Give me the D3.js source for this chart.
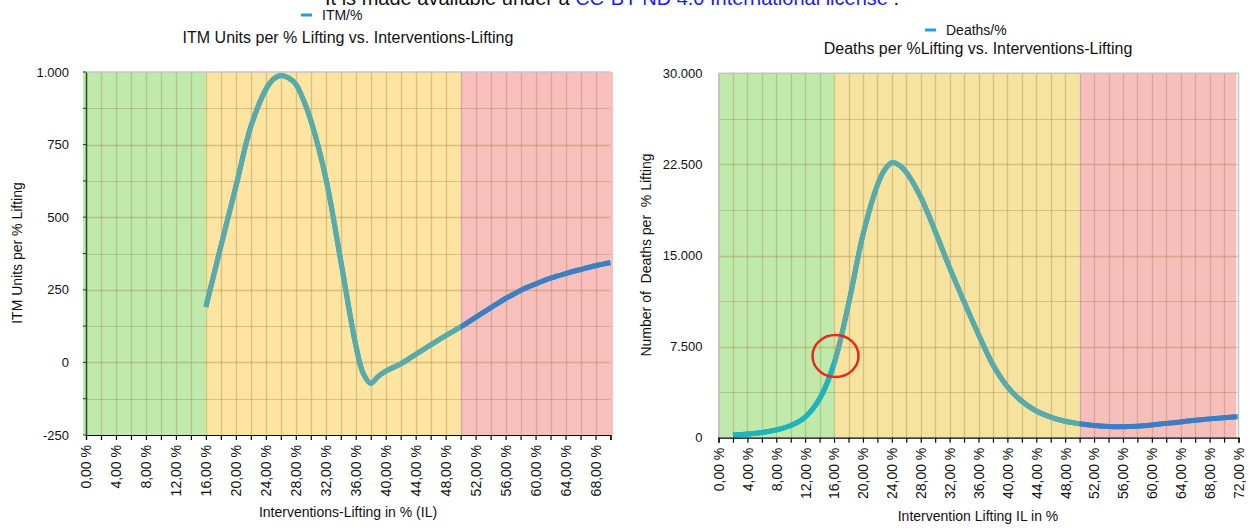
<!DOCTYPE html>
<html>
<head>
<meta charset="utf-8">
<script src="https://cdn.jsdelivr.net/npm/d3@7"></script>
<style>
  html, body { margin: 0; padding: 0; background: #fff; }
  svg { display: block; font-family: "Liberation Sans", Arial, Helvetica, sans-serif; }
</style>
</head>
<body>
<svg id="chart" width="1250" height="528"></svg>
<script>
// ---------- DATA ----------
const itmX      = [16, 18, 20, 22, 24, 25, 26, 27, 28, 29, 30, 32, 34, 36, 37, 38, 39, 40, 42, 44, 46, 48, 50, 52, 54, 56, 58, 60, 62, 64, 66, 68, 70];
const itmValues = [191, 400, 605, 812, 940, 975, 988, 980, 958, 905, 834, 635, 350, 60, -38, -72, -48, -30, -5, 28, 60, 92, 122, 155, 188, 220, 248, 270, 290, 306, 320, 333, 343];

const deathsX      = [2, 4, 6, 8, 10, 12, 14, 16, 18, 20, 22, 23, 24, 25, 26, 28, 30, 32, 34, 36, 38, 40, 42, 44, 46, 48, 50, 52, 54, 56, 58, 60, 62, 64, 66, 68, 70, 72];
const deathsValues = [220, 300, 420, 640, 1000, 1700, 3200, 6100, 11000, 16700, 20800, 22050, 22650, 22450, 21850, 19800, 17000, 14000, 11200, 8500, 6000, 4200, 3000, 2200, 1700, 1350, 1150, 1000, 930, 910, 950, 1050, 1180, 1300, 1430, 1550, 1650, 1730];

const leftXTicks   = [0, 4, 8, 12, 16, 20, 24, 28, 32, 36, 40, 44, 48, 52, 56, 60, 64, 68];
const leftYTicks   = [-250, 0, 250, 500, 750, 1000];
const rightXTicks  = [0, 4, 8, 12, 16, 20, 24, 28, 32, 36, 40, 44, 48, 52, 56, 60, 64, 68, 72];
const rightYTicks  = [0, 7500, 15000, 22500, 30000];

const leftZones  = [{from: 0, to: 16, fill: "#c0eaab", line: "#5aaba8"}, {from: 16, to: 50, fill: "#fde4a0", line: "#5aaba8"}, {from: 50, to: 70, fill: "#f8bfbd", line: "#3f7fc0"}];
const rightZones = [{from: 0, to: 16, fill: "#c0eaab", line: "#1fb5b8"}, {from: 16, to: 50, fill: "#f7e3a0", line: "#5aaba8"}, {from: 50, to: 71.7, fill: "#f7bfbc", line: "#3f7cc0"}];

const circleNote = {x: 16.2, y: 6730};

// ---------- SETUP ----------
const svg = d3.select("#chart");
const loc = d3.formatLocale({decimal: ",", thousands: ".", grouping: [3], currency: ["", ""], minus: "-"});
const yFmt = loc.format(",d");
const xFmt = d => d.toFixed(2).replace(".", ",") + " %";
const defs = svg.append("defs");

// top caption (cut off at top as in the source)
const cap = svg.append("text").attr("x", 325).attr("y", 5).attr("font-size", 20).attr("fill", "#111");
cap.append("tspan").text("It is made available under a ");
cap.append("tspan").attr("fill", "#1a1aff").text("CC-BY-ND 4.0 International license");
cap.append("tspan").text(" .");

const gridColor = "rgba(150,118,55,0.33)";

function drawChart(o) {
  const {x, y, zones, xs, vs, id} = o;
  const g = svg.append("g");
  const [x0, x1] = x.range();
  const [yb, yt] = y.range();

  // zones
  zones.forEach((z, i) => {
    g.append("rect")
      .attr("x", x(z.from) - (i === 0 ? o.zoneLeftPad : 0))
      .attr("y", yt)
      .attr("width", x(z.to) - x(z.from) + (i === 0 ? o.zoneLeftPad : 0) + (i === zones.length - 1 ? o.zoneRightPad : 0))
      .attr("height", yb - yt)
      .attr("fill", z.fill);
  });

  // grid
  const grid = g.append("g").attr("class", "grid");
  grid.selectAll(".vg").data(d3.range(o.xGridStep, x.domain()[1] - 0.01, o.xGridStep))
    .join("line").attr("x1", d => Math.round(x(d)) + 0.5).attr("x2", d => Math.round(x(d)) + 0.5).attr("y1", yt).attr("y2", yb)
    .attr("stroke", gridColor).attr("stroke-width", 1.3);
  grid.selectAll(".hg").data(d3.range(y.domain()[0] + o.yGridStep, y.domain()[1] - 1, o.yGridStep))
    .join("line").attr("x1", x0).attr("x2", x1).attr("y1", d => Math.round(y(d)) + 0.5).attr("y2", d => Math.round(y(d)) + 0.5)
    .attr("stroke", gridColor).attr("stroke-width", d => (o.yMajor && (d % o.yMajor === 0)) ? 1.6 : 1.2);

  // line clipped by zones
  const pts = xs.map((v, i) => [v, vs[i]]);
  const lineGen = d3.line().x(d => x(d[0])).y(d => y(d[1])).curve(d3.curveCatmullRom.alpha(0.5));
  g.append("path").attr("d", lineGen(pts)).attr("fill", "none").attr("stroke", "#1ea0f0")
    .attr("stroke-width", 5).attr("stroke-linejoin", "round");
  zones.forEach((z, i) => {
    const cid = id + "clip" + i;
    defs.append("clipPath").attr("id", cid).append("rect")
      .attr("x", x(z.from)).attr("y", 0).attr("width", x(z.to) - x(z.from)).attr("height", 528);
    g.append("path").attr("d", lineGen(pts)).attr("fill", "none").attr("stroke", z.line)
      .attr("stroke-width", 5).attr("stroke-linejoin", "round").attr("clip-path", `url(#${cid})`);
  });

  // frame
  g.append("line").attr("x1", x0 - (o.zoneLeftPad || 0)).attr("x2", x1).attr("y1", yt).attr("y2", yt)
    .attr("stroke", "#c4c4c4").attr("stroke-width", 1.5);
  if (o.rightBorder) {
    g.append("line").attr("x1", x1).attr("x2", x1).attr("y1", yt).attr("y2", yb)
      .attr("stroke", "#c4c4c4").attr("stroke-width", 1.5);
  }

  // y axis
  const ya = d3.axisLeft(y).tickValues(o.yTicks).tickFormat(yFmt).tickSize(0).tickPadding(o.yPad);
  const yg = g.append("g").attr("transform", `translate(${x0},0)`).call(ya);
  yg.select(".domain").attr("stroke", o.yAxisColor).attr("stroke-width", o.yAxisWidth);
  yg.selectAll("text").attr("font-size", 13).attr("fill", "#111").attr("font-family", null);
  if (o.yMinorTicks) {
    g.append("g").selectAll("line").data(d3.range(y.domain()[0], y.domain()[1] + 1, o.yGridStep)).join("line")
      .attr("x1", x0 - 3).attr("x2", x0).attr("y1", d => y(d)).attr("y2", d => y(d))
      .attr("stroke", "#1e3d1e").attr("stroke-width", 1);
  }

  // x axis
  const xa = d3.axisBottom(x).tickValues(d3.range(0, x.domain()[1] + 0.001, 2)).tickSize(5)
    .tickFormat(d => o.xTicks.includes(d) ? xFmt(d) : "");
  const xg = g.append("g").attr("transform", `translate(0,${yb})`).call(xa);
  xg.select(".domain").attr("stroke", "#000").attr("stroke-width", 1.2);
  xg.selectAll(".tick line").attr("stroke", "#000").attr("stroke-width", 1.2);
  xg.selectAll("text").attr("font-size", 14).attr("fill", "#111").attr("font-family", null)
    .attr("transform", "rotate(-90)").attr("text-anchor", "end")
    .attr("x", -10).attr("y", 0).attr("dy", "0.35em");

  // titles & legend
  g.append("line").attr("x1", o.legX).attr("x2", o.legX + 11).attr("y1", o.legY).attr("y2", o.legY)
    .attr("stroke", "#1ea0f0").attr("stroke-width", 3);
  g.append("text").attr("x", o.legX + 21).attr("y", o.legY + 5).attr("font-size", 14).attr("fill", "#111").text(o.legend);
  g.append("text").attr("x", o.titleX).attr("y", o.titleY).attr("text-anchor", "middle")
    .attr("font-size", 16).attr("fill", "#111").text(o.title);
  g.append("text").attr("x", o.titleX).attr("y", o.xTitleY).attr("text-anchor", "middle")
    .attr("font-size", 14).attr("fill", "#111").text(o.xTitle);
  g.append("text").attr("transform", `translate(${o.yTitleX},${o.yTitleY}) rotate(-90)`)
    .attr("text-anchor", "middle").attr("font-size", 14).attr("fill", "#111")
    .style("white-space", "pre").text(o.yTitle);
  return g;
}

// Left chart
const xL = d3.scaleLinear().domain([0, 70]).range([86, 610.5]);
const yL = d3.scaleLinear().domain([-250, 1000]).range([435, 72]);
drawChart({
  id: "L", x: xL, y: yL, zones: leftZones, xs: itmX, vs: itmValues,
  zoneLeftPad: 3, zoneRightPad: 2.5, xGridStep: 2, yGridStep: 125, yMajor: 250,
  yTicks: leftYTicks, xTicks: leftXTicks, yPad: 17, yAxisColor: "#1e4d1e", yAxisWidth: 1.5, yMinorTicks: true,
  rightBorder: false,
  legX: 301, legY: 15, legend: "ITM/%",
  title: "ITM Units per % Lifting vs. Interventions-Lifting", titleX: 348, titleY: 43,
  xTitle: "Interventions-Lifting in % (IL)", xTitleY: 517,
  yTitle: "ITM Units per % Lifting", yTitleX: 22, yTitleY: 253
});

// Right chart
const xR = d3.scaleLinear().domain([0, 72]).range([718.5, 1238.5]);
const yR = d3.scaleLinear().domain([0, 30000]).range([437.7, 73.3]);
const gR = drawChart({
  id: "R", x: xR, y: yR, zones: rightZones, xs: deathsX, vs: deathsValues,
  zoneLeftPad: 0, zoneRightPad: 0, xGridStep: 2, yGridStep: 3750, yMajor: 7500,
  yTicks: rightYTicks, xTicks: rightXTicks, yPad: 16, yAxisColor: "#b8b8b8", yAxisWidth: 1.5, yMinorTicks: false,
  rightBorder: true,
  legX: 925, legY: 30, legend: "Deaths/%",
  title: "Deaths per %Lifting vs. Interventions-Lifting", titleX: 978, titleY: 54,
  xTitle: "Intervention Lifting IL in %", xTitleY: 521,
  yTitle: "Number of  Deaths per  % Lifting", yTitleX: 651, yTitleY: 255
});

// red annotation circle
gR.append("ellipse").attr("cx", xR(circleNote.x)).attr("cy", yR(circleNote.y))
  .attr("rx", 23).attr("ry", 21).attr("fill", "none").attr("stroke", "#e8281c").attr("stroke-width", 2.5);
</script>
</body>
</html>
